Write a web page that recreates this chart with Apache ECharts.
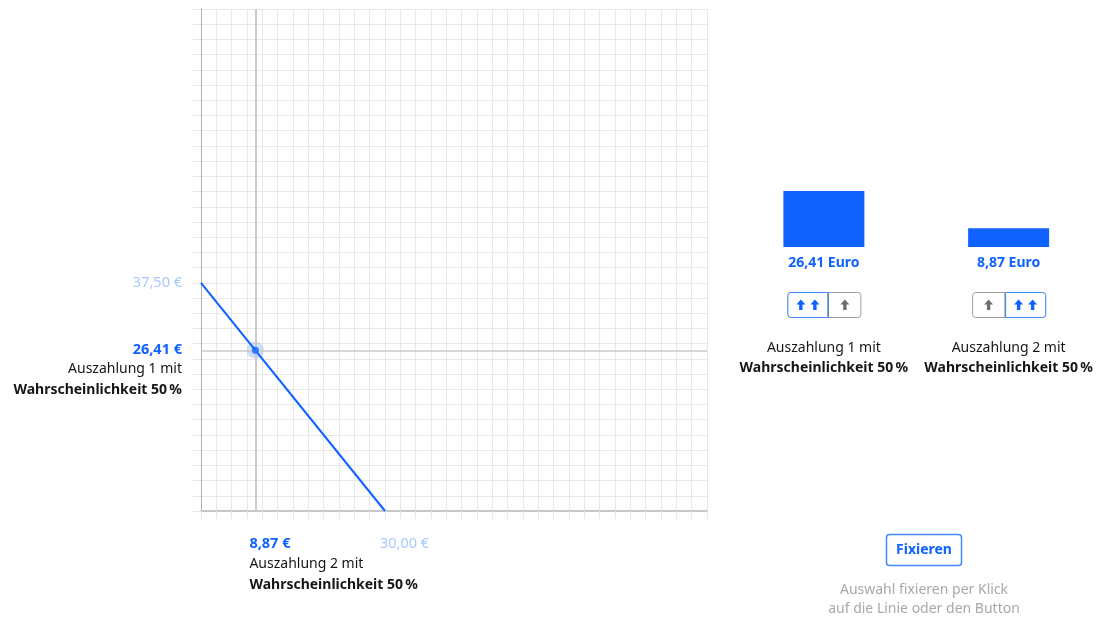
<!DOCTYPE html>
<html><head><meta charset="utf-8">
<script src="https://cdn.jsdelivr.net/npm/echarts@6/dist/echarts.min.js"></script>
<style>html,body{margin:0;padding:0;background:#fff}#c{width:1101px;height:622px}</style>
</head><body><div id="c"></div>
<script>
// ---- data ----
const payoutLabels = ['Auszahlung 1', 'Auszahlung 2'];
const payoutValues = [26.41, 8.87];           // selected payouts (Euro)
const budgetLineX = [0, 30];                  // budget line x values
const budgetLineY = [37.5, 0];                // budget line y values
const axisMax = 82.5;
const axisStep = 2.5;
const barAxisMax = 50;
const probabilityText = 'Wahrscheinlichkeit 50\u202F%';
const selectedSide = [0, 1];                  // which button segment is active (0 = double arrow left)

// ---- helpers ----
const FONT = 'Noto Sans';
const BLUE = '#0f62fe';
const LIGHTBLUE = '#a6c8ff';
const DARK = '#161616';
const GRIDC = '#e8e8e8';
const fmt = v => v.toFixed(2).replace('.', ',');

const chart = echarts.init(document.getElementById('c'));
const selX = payoutValues[1], selY = payoutValues[0];

const valueAxis = (extra) => Object.assign({
  type: 'value', gridIndex: 0, min: 0, max: axisMax, interval: axisStep,
  axisLabel: {show: false},
  axisTick: {show: true, length: 8, lineStyle: {color: GRIDC}},
  splitLine: {show: true, lineStyle: {color: GRIDC, width: 1}}
}, extra);

chart.setOption({
  animation: false,
  textStyle: {fontFamily: FONT},
  grid: [
    {left: 201, top: 9, width: 506, height: 502},
    {left: 731.5, top: 141, width: 370, height: 106}
  ],
  xAxis: [
    valueAxis({axisLine: {show: true, onZero: false, lineStyle: {color: '#c6c6c6', width: 2}}}),
    {type: 'category', gridIndex: 1, data: payoutLabels, show: false}
  ],
  yAxis: [
    valueAxis({axisLine: {show: true, onZero: false, lineStyle: {color: '#b0b0b0', width: 1}}}),
    {type: 'value', gridIndex: 1, min: 0, max: barAxisMax, show: false, splitLine: {show: false}}
  ],
  series: [
    {type: 'scatter', xAxisIndex: 0, yAxisIndex: 0, data: [], z: 1, silent: true,
     markLine: {silent: true, symbol: 'none', label: {show: false}, animation: false,
       data: [
         {xAxis: selX, lineStyle: {color: '#cacaca', width: 2, type: 'solid'}},
         {yAxis: selY, lineStyle: {color: '#cacaca', width: 1.5, type: 'solid'}}
       ]}},
    {type: 'line', xAxisIndex: 0, yAxisIndex: 0, z: 3, symbol: 'none',
     data: budgetLineX.map((x, i) => [x, budgetLineY[i]]),
     lineStyle: {color: BLUE, width: 2}},
    {type: 'scatter', xAxisIndex: 0, yAxisIndex: 0, z: 4, data: [[selX, selY]], symbolSize: 17,
     itemStyle: {color: 'rgba(15,98,254,0.25)'}},
    {type: 'scatter', xAxisIndex: 0, yAxisIndex: 0, z: 5, data: [[selX, selY]], symbolSize: 7,
     itemStyle: {color: BLUE}},
    {type: 'bar', xAxisIndex: 1, yAxisIndex: 1, data: payoutValues, barWidth: 81,
     itemStyle: {color: BLUE},
     label: {show: true, position: 'bottom', distance: 9, fontFamily: FONT, fontSize: 14,
       fontWeight: 'bold', color: BLUE, formatter: p => fmt(p.value) + ' Euro'}}
  ]
});

// ---- text & controls positioned through the chart's scales ----
const px = (x, y) => chart.convertToPixel({gridIndex: 0}, [x, y]);
const bx = (i) => chart.convertToPixel({xAxisIndex: 1, yAxisIndex: 1}, [i, 0]);
const g = [];
const txt = (text, x, y, o) => g.push({type: 'text', silent: true, z: 10, style: Object.assign({
  text, x, y, fontFamily: FONT, fontSize: 14, fill: DARK, align: 'left', verticalAlign: 'middle'}, o || {})});

// y axis labels
const pRef = px(0, budgetLineY[0]);
txt(fmt(budgetLineY[0]) + ' €', pRef[0] - 19, pRef[1], {align: 'right', fill: LIGHTBLUE, fontSize: 14.5});
const pSelY = px(0, selY);
txt(fmt(selY) + ' €', pSelY[0] - 19, pSelY[1], {align: 'right', fill: BLUE, fontWeight: 'bold', fontSize: 14.5});
txt(payoutLabels[0] + ' mit', pSelY[0] - 19, pSelY[1] + 19, {align: 'right'});
txt(probabilityText, pSelY[0] - 19, pSelY[1] + 40, {align: 'right', fontWeight: 'bold'});

// x axis labels
const pRefX = px(budgetLineX[1], 0);
txt(fmt(budgetLineX[1]) + ' €', pRefX[0] - 5, pRefX[1] + 33, {fill: LIGHTBLUE, fontSize: 14.5});
const pSelX = px(selX, 0);
txt(fmt(selX) + ' €', pSelX[0] - 6, pSelX[1] + 33, {fill: BLUE, fontWeight: 'bold', fontSize: 14.5});
txt(payoutLabels[1] + ' mit', pSelX[0] - 6, pSelX[1] + 53);
txt(probabilityText, pSelX[0] - 6, pSelX[1] + 74, {fontWeight: 'bold'});

// arrow helper
const arrow = (cx, cy, color) => g.push({type: 'polygon', silent: true, z: 12,
  shape: {points: [[cx, cy - 5.5], [cx + 4.5, cy - 0.5], [cx + 1.7, cy - 0.5], [cx + 1.7, cy + 5], [cx - 1.7, cy + 5], [cx - 1.7, cy - 0.5], [cx - 4.5, cy - 0.5]]},
  style: {fill: color}});

// right panel: buttons + captions
payoutValues.forEach((v, i) => {
  const c = bx(i)[0];
  const left = c - 36.5, top = 292, h = 26, wSel = 41, wOther = 33;
  const selLeft = selectedSide[i] === 0;
  const selX0 = selLeft ? left : left + wOther;
  const othX0 = selLeft ? left + wSel : left;
  g.push({type: 'rect', silent: true, z: 10, shape: {x: left + 0.5, y: top + 0.5, width: wSel + wOther - 1, height: h - 1, r: 3},
    style: {fill: '#fff', stroke: '#a0a0a0', lineWidth: 1}});
  g.push({type: 'rect', silent: true, z: 11, shape: {x: selX0 + 0.5, y: top + 0.5, width: wSel - 1, height: h - 1,
    r: selLeft ? [3, 0, 0, 3] : [0, 3, 3, 0]}, style: {fill: '#fff', stroke: '#4589ff', lineWidth: 1}});
  const divX = selLeft ? left + wSel : left + wOther;
  g.push({type: 'line', silent: true, z: 12, shape: {x1: divX, y1: top + 1, x2: divX, y2: top + h - 1},
    style: {stroke: '#5b7fb5', lineWidth: 1.2}});
  const sc = selX0 + wSel / 2, oc = othX0 + wOther / 2, ay = top + h / 2;
  arrow(sc - 7, ay, BLUE); arrow(sc + 7, ay, BLUE);
  arrow(oc, ay, '#6f6f6f');
  txt(payoutLabels[i] + ' mit', c, 348, {align: 'center'});
  txt(probabilityText, c, 368, {align: 'center', fontWeight: 'bold'});
});

// fix button + hint
g.push({type: 'rect', silent: true, z: 10, shape: {x: 886.5, y: 534.5, width: 75, height: 31, r: 3},
  style: {fill: '#fff', stroke: '#4589ff', lineWidth: 1.5}});
txt('Fixieren', 924, 550.5, {align: 'center', fill: BLUE, fontWeight: 'bold'});
txt('Auswahl fixieren per Klick', 924, 590.5, {align: 'center', fill: '#a8a8a8'});
txt('auf die Linie oder den Button', 924, 609.5, {align: 'center', fill: '#a8a8a8'});

chart.setOption({graphic: g});
</script>
</body></html>
